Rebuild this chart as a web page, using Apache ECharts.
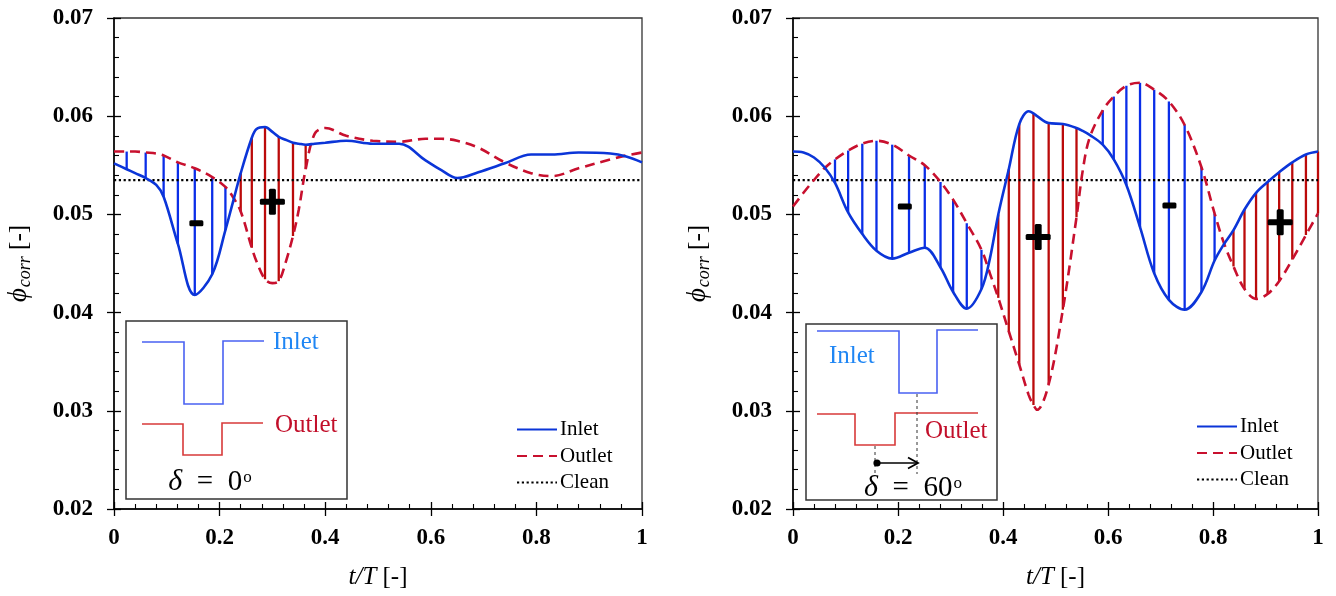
<!DOCTYPE html>
<html>
<head>
<meta charset="utf-8">
<script src="https://cdn.jsdelivr.net/npm/echarts@6/dist/echarts.min.js"></script>
<style>
  html, body { margin: 0; padding: 0; background: #fff; }
  #chart { width: 1336px; height: 596px; }
</style>
</head>
<body>
<div id="chart"></div>
<script>
// ---- sampled phase positions and flow coefficient, delta = 0 deg ----
const tL = [0, 0.024, 0.04, 0.06, 0.080, 0.094, 0.121, 0.153, 0.186, 0.211, 0.225, 0.240, 0.261, 0.270, 0.286, 0.300, 0.312, 0.325, 0.339, 0.350, 0.363, 0.38, 0.40, 0.44, 0.49, 0.54, 0.59, 0.62, 0.65, 0.69, 0.74, 0.79, 0.83, 0.88, 0.94, 0.97, 1.0];
const inletL = [0.0552, 0.0546, 0.0542, 0.0537, 0.0530, 0.0518, 0.0470, 0.0418, 0.0439, 0.0484, 0.0512, 0.0542, 0.0578, 0.0587, 0.0589, 0.0584, 0.0579, 0.0576, 0.0573, 0.0572, 0.0571, 0.0572, 0.0573, 0.0575, 0.0572, 0.0572, 0.0555, 0.0545, 0.0537, 0.0543, 0.0552, 0.0561, 0.0561, 0.0563, 0.0562, 0.0559, 0.0553];
const outletL = [0.0564, 0.0564, 0.0564, 0.0563, 0.0562, 0.0560, 0.0553, 0.0547, 0.0538, 0.0528, 0.0518, 0.0503, 0.0466, 0.0452, 0.0434, 0.0430, 0.0432, 0.0451, 0.0478, 0.0505, 0.0546, 0.0582, 0.0588, 0.0580, 0.0575, 0.0574, 0.0577, 0.0577, 0.0575, 0.0568, 0.0553, 0.0542, 0.0539, 0.0547, 0.0556, 0.0560, 0.0563];
const hatchL = [0.024, 0.06, 0.094, 0.121, 0.153, 0.186, 0.211, 0.240, 0.261, 0.286, 0.312, 0.339, 0.363];
const signsL = [[0.156, 0.0491, -1], [0.300, 0.0513, 1]];

// ---- sampled phase positions and flow coefficient, delta = 60 deg ----
const tR = [0, 0.02, 0.04, 0.06, 0.080, 0.105, 0.132, 0.159, 0.189, 0.221, 0.251, 0.281, 0.305, 0.331, 0.359, 0.375, 0.391, 0.411, 0.431, 0.449, 0.458, 0.465, 0.487, 0.514, 0.540, 0.552, 0.565, 0.590, 0.611, 0.635, 0.661, 0.688, 0.716, 0.746, 0.778, 0.803, 0.820, 0.839, 0.860, 0.882, 0.904, 0.926, 0.951, 0.977, 1.0];
const inletR = [0.0564, 0.0563, 0.0558, 0.0548, 0.0532, 0.0502, 0.0480, 0.0463, 0.0455, 0.0461, 0.0466, 0.0446, 0.0421, 0.0404, 0.0424, 0.0455, 0.0500, 0.0546, 0.0592, 0.0605, 0.0603, 0.0600, 0.0593, 0.0592, 0.0588, 0.0585, 0.0581, 0.0571, 0.0556, 0.0530, 0.0487, 0.0440, 0.0413, 0.0403, 0.0421, 0.0453, 0.0469, 0.0484, 0.0505, 0.0522, 0.0533, 0.0543, 0.0553, 0.0561, 0.0564];
const outletR = [0.0508, 0.0522, 0.0535, 0.0547, 0.0556, 0.0565, 0.0572, 0.0575, 0.0571, 0.0560, 0.0550, 0.0533, 0.0515, 0.0491, 0.0464, 0.0440, 0.0415, 0.0381, 0.0347, 0.0316, 0.0306, 0.0301, 0.0327, 0.0403, 0.0497, 0.0545, 0.0578, 0.0606, 0.0620, 0.0631, 0.0634, 0.0627, 0.0615, 0.0591, 0.0548, 0.0501, 0.0472, 0.0447, 0.0424, 0.0414, 0.0419, 0.0432, 0.0454, 0.0479, 0.0501];
const hatchR = [0.080, 0.105, 0.132, 0.159, 0.189, 0.221, 0.251, 0.281, 0.305, 0.331, 0.359, 0.391, 0.411, 0.431, 0.458, 0.487, 0.514, 0.540, 0.590, 0.611, 0.635, 0.661, 0.688, 0.716, 0.746, 0.778, 0.803, 0.839, 0.860, 0.882, 0.904, 0.926, 0.951, 0.977, 1.0];
const signsR = [[0.213, 0.0508, -1], [0.467, 0.0477, 1], [0.717, 0.0509, -1], [0.928, 0.0492, 1]];

// clean (uniform inflow) reference level
const cleanLevel = 0.0535;
const cleanT = [0, 1];

// axis ticks
const xTicks = { min: 0, max: 1, step: 0.2 };
const yTicks = { min: 0.02, max: 0.07, step: 0.01 };

const SERIF = 'Liberation Serif, Times New Roman, serif';
const BLUE = '#0b35d8';
const RED = '#c8102e';
const BLUE_H = '#0a2ee8';
const RED_H = '#bb0a0a';

const chart = echarts.init(document.getElementById('chart'));

const grids = [
  { left: 114, top: 18, width: 528, height: 491 },
  { left: 793, top: 18, width: 525, height: 491 }
];

function xAxes(g) {
  const base = { type: 'value', gridIndex: g, position: 'bottom', min: xTicks.min, max: xTicks.max, interval: xTicks.step, splitLine: { show: false } };
  return [
    Object.assign({}, base, {
      axisLine: { onZero: false, lineStyle: { color: '#000', width: 1.5 } },
      axisTick: { inside: true, length: 7, lineStyle: { color: '#000', width: 1.3 } },
      minorTick: { show: true, splitNumber: 5, length: 5, lineStyle: { color: '#000', width: 1.1 } },
      axisLabel: { margin: 18, fontFamily: SERIF, fontWeight: 'bold', fontSize: 23, color: '#000',
                   formatter: v => String(+v.toFixed(1)) },
      name: '{i|t/T}{n| [-]}', nameLocation: 'middle', nameGap: 56,
      nameTextStyle: { rich: {
        i: { fontFamily: SERIF, fontStyle: 'italic', fontSize: 25, color: '#000' },
        n: { fontFamily: SERIF, fontSize: 25, color: '#000' } } }
    }),
    Object.assign({}, base, {
      axisLine: { show: false, onZero: false },
      axisTick: { inside: false, length: 7, lineStyle: { color: '#000', width: 1.3 } },
      axisLabel: { show: false }
    })
  ];
}

function yAxes(g) {
  const base = { type: 'value', gridIndex: g, position: 'left', min: yTicks.min, max: yTicks.max, interval: yTicks.step, splitLine: { show: false } };
  return [
    Object.assign({}, base, {
      axisLine: { onZero: false, lineStyle: { color: '#000', width: 1.5 } },
      axisTick: { inside: true, length: 7, lineStyle: { color: '#000', width: 1.3 } },
      minorTick: { show: true, splitNumber: 5, length: 5, lineStyle: { color: '#000', width: 1.1 } },
      axisLabel: { margin: 21, fontFamily: SERIF, fontWeight: 'bold', fontSize: 23, color: '#000',
                   formatter: v => v.toFixed(2) },
      name: '{p|ϕ}{s|corr}{n| [-]}', nameLocation: 'middle', nameGap: 80, nameRotate: 90,
      nameTextStyle: { rich: {
        p: { fontFamily: SERIF, fontStyle: 'italic', fontSize: 27, color: '#000', lineHeight: 30, verticalAlign: 'middle' },
        s: { fontFamily: SERIF, fontStyle: 'italic', fontSize: 18, color: '#000', lineHeight: 30, verticalAlign: 'bottom', padding: [0, 0, 0, 1] },
        n: { fontFamily: SERIF, fontSize: 25, color: '#000', lineHeight: 30, verticalAlign: 'middle' } } }
    }),
    Object.assign({}, base, {
      axisLine: { show: false, onZero: false },
      axisTick: { inside: false, length: 7, lineStyle: { color: '#000', width: 1.3 } },
      axisLabel: { show: false }
    })
  ];
}

function hatchSeries(axisIdx, t, inlet, outlet, hatch) {
  const data = hatch.map(h => {
    const i = t.indexOf(h);
    return [h, inlet[i], outlet[i]];
  });
  return {
    type: 'custom', xAxisIndex: axisIdx, yAxisIndex: axisIdx, z: 1, silent: true,
    data: data,
    renderItem: (params, api) => {
      const x = api.value(0), a = api.value(1), b = api.value(2);
      const p1 = api.coord([x, a]);
      const p2 = api.coord([x, b]);
      return { type: 'line', shape: { x1: p1[0], y1: p1[1], x2: p2[0], y2: p2[1] },
               style: { stroke: b > a ? BLUE_H : RED_H, lineWidth: 2.3 } };
    }
  };
}

function signSeries(axisIdx, signs) {
  return {
    type: 'custom', xAxisIndex: axisIdx, yAxisIndex: axisIdx, z: 6, silent: true,
    data: signs,
    renderItem: (params, api) => {
      const c = api.coord([api.value(0), api.value(1)]);
      const plus = api.value(2) > 0;
      const kids = plus
        ? [ { type: 'rect', shape: { x: c[0] - 12.5, y: c[1] - 3, width: 25, height: 6, r: 1.5 }, style: { fill: '#000' } },
            { type: 'rect', shape: { x: c[0] - 3.5, y: c[1] - 13, width: 7, height: 26, r: 1.5 }, style: { fill: '#000' } } ]
        : [ { type: 'rect', shape: { x: c[0] - 7, y: c[1] - 3, width: 14, height: 6, r: 1.5 }, style: { fill: '#000' } } ];
      return { type: 'group', children: kids };
    }
  };
}

function curveSeries(axisIdx, t, inlet, outlet) {
  return [
    { name: 'Clean', type: 'line', xAxisIndex: axisIdx, yAxisIndex: axisIdx, z: 3, symbol: 'none', silent: true,
      data: cleanT.map(x => [x, cleanLevel]),
      lineStyle: { color: '#000', width: 2.2, type: [2.2, 2.6] }, itemStyle: { color: '#000' } },
    { name: 'Outlet', type: 'line', xAxisIndex: axisIdx, yAxisIndex: axisIdx, z: 4, symbol: 'none', smooth: 0.35, silent: true,
      data: t.map((x, i) => [x, outlet[i]]),
      lineStyle: { color: RED, width: 2.6, type: [10, 6] }, itemStyle: { color: RED } },
    { name: 'Inlet', type: 'line', xAxisIndex: axisIdx, yAxisIndex: axisIdx, z: 5, symbol: 'none', smooth: 0.35, silent: true,
      data: t.map((x, i) => [x, inlet[i]]),
      lineStyle: { color: BLUE, width: 2.6 }, itemStyle: { color: BLUE } }
  ];
}

function legendAt(left, top) {
  return {
    left: left, top: top, padding: 0, orient: 'vertical', selectedMode: false,
    data: ['Inlet', 'Outlet', 'Clean'],
    itemWidth: 40, itemHeight: 12, itemGap: 5.5,
    itemStyle: { opacity: 0 },
    textStyle: { fontFamily: SERIF, fontSize: 21, lineHeight: 21, color: '#000', padding: [0, 0, 0, -2] }
  };
}

// schematic of the inlet / outlet distortion phasing
const insetFont = '25px ' + SERIF;
function deltaText(x, y, value) {
  return { type: 'text', x: x, y: y, z: 100,
    style: { text: '{d|δ}{n|  =  ' + value + '}{s|o}', align: 'center', verticalAlign: 'middle',
      rich: {
        d: { fontFamily: SERIF, fontStyle: 'italic', fontSize: 30, fill: '#000', lineHeight: 30 },
        n: { fontFamily: SERIF, fontSize: 29, fill: '#000', lineHeight: 30 },
        s: { fontFamily: SERIF, fontSize: 17, fill: '#000', lineHeight: 30, verticalAlign: 'top', padding: [2, 0, 0, 1] }
      } } };
}

const graphic = [
  // delta = 0
  { type: 'rect', z: 90, shape: { x: 126, y: 321, width: 221, height: 178 }, style: { fill: '#fff', stroke: '#333', lineWidth: 1.5 } },
  { type: 'polyline', z: 100, shape: { points: [[142, 342], [184, 342], [184, 404], [223, 404], [223, 341], [264, 341]] }, style: { stroke: '#4a62f2', lineWidth: 1.6, fill: null } },
  { type: 'text', z: 100, x: 273, y: 342, style: { text: 'Inlet', font: insetFont, fill: '#1f86f4', verticalAlign: 'middle' } },
  { type: 'polyline', z: 100, shape: { points: [[142, 424], [183, 424], [183, 455], [222, 455], [222, 423], [263, 423]] }, style: { stroke: '#d83a3a', lineWidth: 1.6, fill: null } },
  { type: 'text', z: 100, x: 275, y: 425, style: { text: 'Outlet', font: insetFont, fill: '#c20f2a', verticalAlign: 'middle' } },
  deltaText(210, 482, '0'),
  // delta = 60
  { type: 'rect', z: 90, shape: { x: 806, y: 324, width: 191, height: 176 }, style: { fill: '#fff', stroke: '#333', lineWidth: 1.5 } },
  { type: 'polyline', z: 100, shape: { points: [[817, 331], [899, 331], [899, 393], [937, 393], [937, 330], [978, 330]] }, style: { stroke: '#4a62f2', lineWidth: 1.6, fill: null } },
  { type: 'text', z: 100, x: 829, y: 356, style: { text: 'Inlet', font: insetFont, fill: '#1f86f4', verticalAlign: 'middle' } },
  { type: 'polyline', z: 100, shape: { points: [[817, 414], [855, 414], [855, 445], [895, 445], [895, 413], [978, 413]] }, style: { stroke: '#d83a3a', lineWidth: 1.6, fill: null } },
  { type: 'text', z: 100, x: 925, y: 431, style: { text: 'Outlet', font: insetFont, fill: '#c20f2a', verticalAlign: 'middle' } },
  { type: 'line', z: 100, shape: { x1: 875, y1: 446, x2: 875, y2: 473 }, style: { stroke: '#333', lineWidth: 1, lineDash: [3, 3] } },
  { type: 'line', z: 100, shape: { x1: 917, y1: 394, x2: 917, y2: 474 }, style: { stroke: '#333', lineWidth: 1, lineDash: [3, 3] } },
  { type: 'line', z: 101, shape: { x1: 878, y1: 463, x2: 917, y2: 463 }, style: { stroke: '#000', lineWidth: 1.6 } },
  { type: 'polyline', z: 101, shape: { points: [[908, 457.5], [918, 463], [908, 468.5]] }, style: { stroke: '#000', lineWidth: 1.8, fill: null } },
  { type: 'circle', z: 101, shape: { cx: 877, cy: 463, r: 3.6 }, style: { fill: '#000' } },
  deltaText(913, 488, '60')
];

const option = {
  animation: false,
  backgroundColor: '#fff',
  grid: grids.map(g => Object.assign({ show: true, borderColor: '#333', borderWidth: 1.3, backgroundColor: 'transparent' }, g)),
  xAxis: [].concat(xAxes(0), xAxes(1)),
  yAxis: [].concat(yAxes(0), yAxes(1)),
  legend: [legendAt(516, 419), legendAt(1196, 416)],
  series: [].concat(
    [hatchSeries(0, tL, inletL, outletL, hatchL)],
    curveSeries(0, tL, inletL, outletL),
    [signSeries(0, signsL)],
    [hatchSeries(2, tR, inletR, outletR, hatchR)],
    curveSeries(2, tR, inletR, outletR),
    [signSeries(2, signsR)]
  ),
  graphic: graphic
};

chart.setOption(option);
</script>
</body>
</html>
